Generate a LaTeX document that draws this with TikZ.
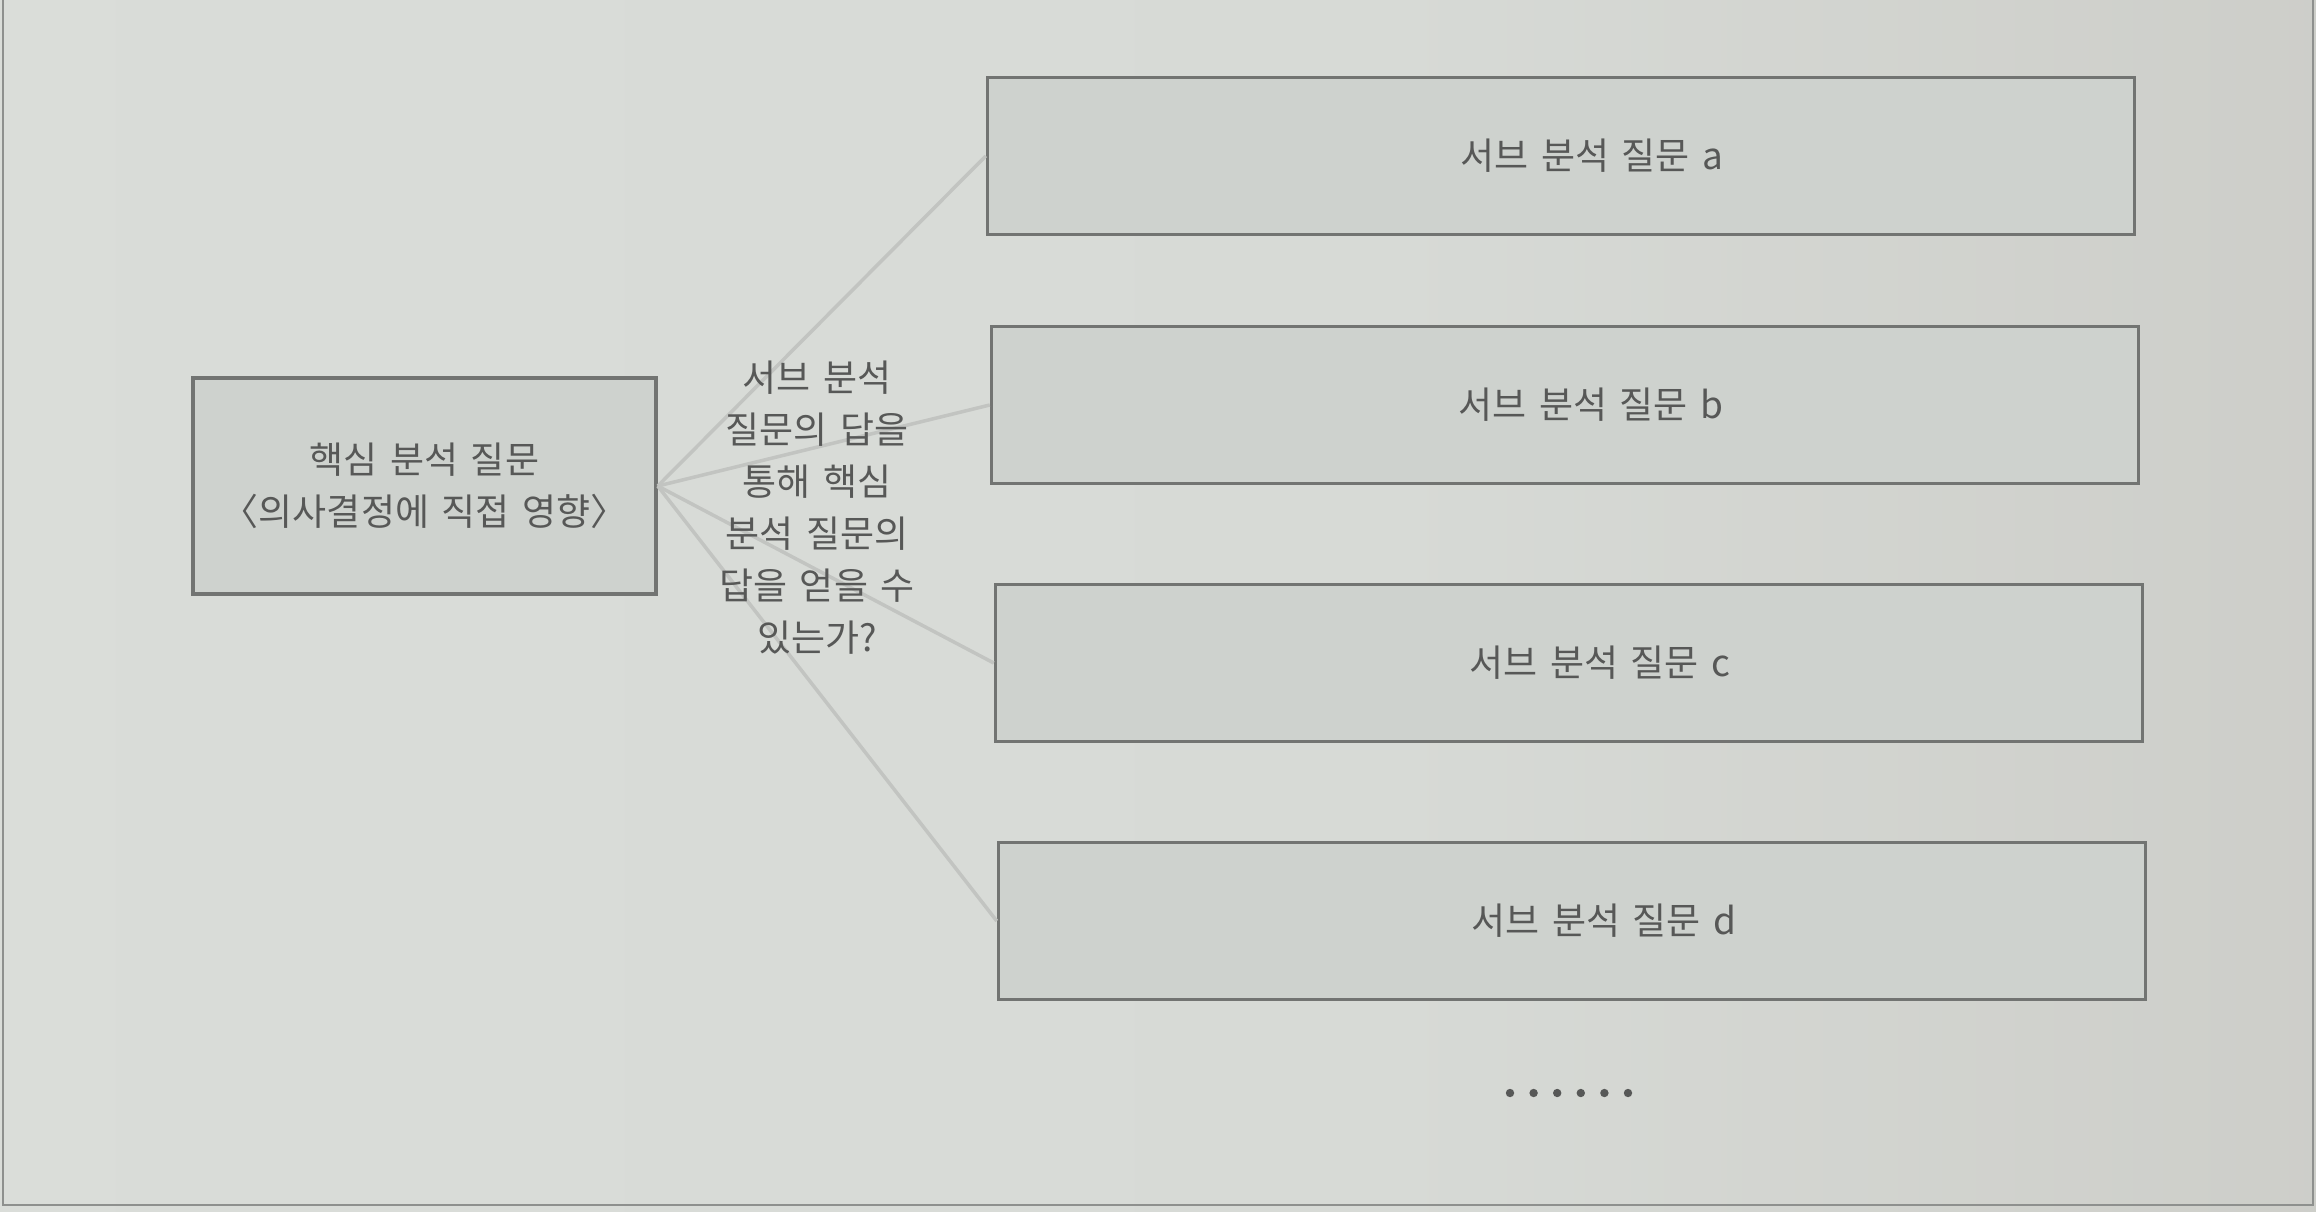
\documentclass[tikz,border=0pt]{standalone}
\usepackage{fontspec}
\setmainfont{Noto Sans CJK KR}[WordSpace=1.5]
\definecolor{bgA}{HTML}{DCDFDB}
\definecolor{bgB}{HTML}{D7DAD6}
\definecolor{bgC}{HTML}{CACAC5}
\definecolor{bgD}{HTML}{B9B7B2}
\definecolor{boxfill}{HTML}{CED2CE}
\definecolor{boxline}{HTML}{727472}
\definecolor{conn}{HTML}{C2C4C1}
\definecolor{txt}{HTML}{575857}
\definecolor{frame}{HTML}{8E908E}
\pgfdeclarehorizontalshading{bgshade}{100bp}{color(0bp)=(bgA); color(55bp)=(bgB); color(82bp)=(bgC); color(100bp)=(bgD)}
\begin{document}
\begin{tikzpicture}[x=1pt,y=-1pt,
  box/.style={draw=boxline,line width=3.5pt,fill=boxfill,inner sep=0pt},
  subbox/.style={box,minimum width=1147pt,minimum height=157pt},
  lbl/.style={text=txt,font=\fontsize{37}{52}\selectfont},
  connector/.style={draw=conn,line width=3.5pt}]
\useasboundingbox (0,0) rectangle (2316,1212);
\shade[shading=bgshade] (0,0) rectangle (2316,1212);
\draw[frame,line width=2.5pt] (3,0) -- (3,1205) -- (2313,1205) -- (2313,0);
% core box
\node[box,minimum width=463pt,minimum height=216pt,lbl,align=center] (core) at (424.5,486)
  {핵심 분석 질문\\〈의사결정에 직접 영향〉};
% sub boxes
\node[subbox,label={[lbl,xshift=31pt]center:서브 분석 질문 a}] (sa) at (1561,156) {};
\node[subbox,label={[lbl,xshift=26pt]center:서브 분석 질문 b}] (sb) at (1565,405) {};
\node[subbox,label={[lbl,xshift=31pt]center:서브 분석 질문 c}] (sc) at (1569,663) {};
\node[subbox,label={[lbl,xshift=32pt]center:서브 분석 질문 d}] (sd) at (1572,921) {};
% connectors
\foreach \t in {sa,sb,sc,sd} \draw[connector] (core.east) -- (\t.west);
% middle text
\node[lbl,align=center,inner sep=0pt] (mid) at (817,508)
  {서브 분석\\질문의 답을\\통해 핵심\\분석 질문의\\답을 얻을 수\\있는가?};
% dots
\foreach \i in {0,...,5} \fill[txt] (1510+23.6*\i,1093) circle (4.2pt);
\end{tikzpicture}
\end{document}
